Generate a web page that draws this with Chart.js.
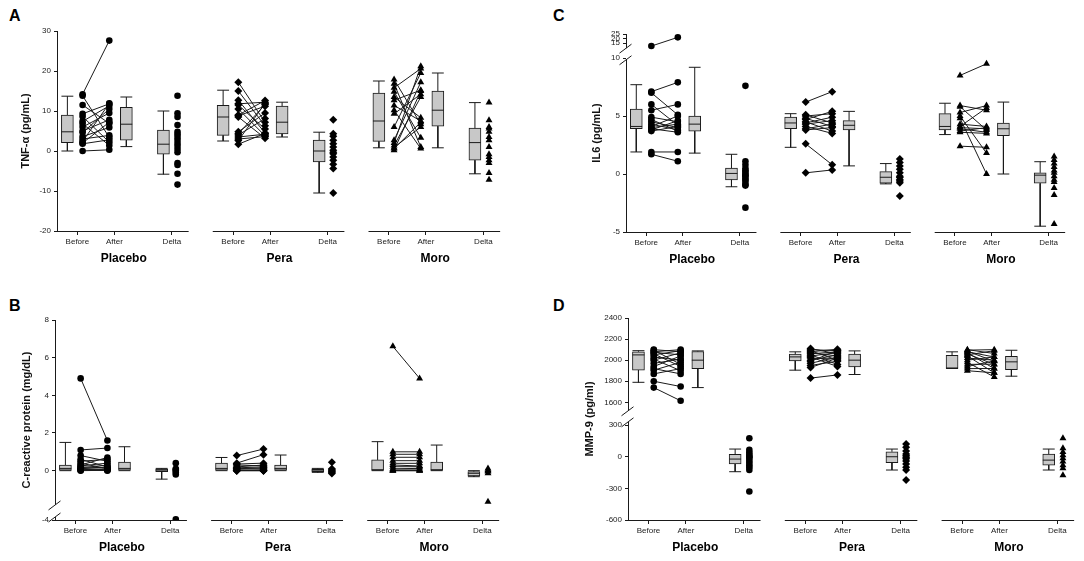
<!DOCTYPE html>
<html>
<head>
<meta charset="utf-8">
<script src="https://cdn.jsdelivr.net/npm/chart.js@4.4.1/dist/chart.umd.min.js"></script>
<style>
  body { margin: 0; background: #fff; width: 1084px; height: 561px; position: relative; overflow: hidden; }
  canvas { position: absolute; }
  .letter { position: absolute; font: bold 16px Arial, "Liberation Sans", sans-serif; color: #000; }
</style>
</head>
<body>
<div class="letter" style="left:9px;top:7px">A</div>
<div class="letter" style="left:9px;top:297px">B</div>
<div class="letter" style="left:553px;top:7px">C</div>
<div class="letter" style="left:553px;top:297px">D</div>
<canvas id="chartA" width="540" height="290" style="left:0;top:0"></canvas>
<canvas id="chartB" width="540" height="271" style="left:0;top:290px"></canvas>
<canvas id="chartC" width="544" height="290" style="left:540px;top:0"></canvas>
<canvas id="chartD" width="544" height="271" style="left:540px;top:290px"></canvas>
<script>
const groupNames = ["Placebo", "Pera", "Moro"];
const tickNames = ["Before", "After", "Delta"];

// A - TNF-alpha (pg/mL)
const tnfBefore = [
  [14.2, 13.8, 11.5, 9.3, 8.6, 7.4, 6.8, 6.0, 5.0, 4.6, 3.6, 3.0, 2.4, 2.0, 1.8, 0.0],
  [17.2, 15.0, 12.7, 11.8, 11.5, 10.5, 9.0, 8.8, 8.5, 4.8, 4.3, 4.0, 3.5, 3.0, 2.6, 1.7],
  [17.9, 16.8, 15.8, 14.8, 13.5, 12.7, 11.4, 10.2, 9.3, 6.0, 2.7, 2.0, 1.4, 0.9, 0.6, 0.2]
];
const tnfAfter = [
  [27.6, 3.4, 6.9, 11.8, 2.2, 11.3, 1.4, 9.5, 7.8, 10.5, 5.9, 3.9, 11.9, 7.2, 2.8, 0.3],
  [7.2, 6.3, 4.5, 12.2, 5.5, 3.8, 12.6, 11.2, 3.2, 9.5, 11.6, 8.1, 4.2, 3.6, 11.9, 4.4],
  [6.7, 1.0, 20.6, 3.3, 8.3, 15.2, 7.5, 0.6, 14.2, 19.5, 17.2, 21.2, 13.5, 6.0, 7.2, 15.0]
];
const tnfDelta = [
  [13.8, 9.4, 8.5, 6.5, 4.8, 4.2, 3.5, 2.8, 2.0, 1.3, 0.5, -0.3, -3.0, -3.5, -5.7, -8.4],
  [7.8, 4.3, 3.7, 2.7, 1.8, 1.0, 0.2, -0.3, -0.7, -1.5, -2.3, -3.3, -4.4, -10.5],
  [12.1, 7.7, 6.0, 5.6, 4.8, 3.5, 2.7, 1.0, -0.8, -1.5, -2.3, -3.0, -5.5, -7.2]
];
// [min, q1, median, q3, max] for Before, After, Delta
const tnfBox = [
  [[0, 2.1, 4.8, 9.0, 13.7], [1.1, 2.7, 6.7, 10.9, 13.5], [-5.8, -0.8, 1.7, 5.2, 10.0]],
  [[2.5, 3.9, 8.5, 11.4, 15.2], [3.5, 4.3, 7.2, 11.2, 12.2], [-10.5, -2.7, 0, 2.7, 4.7]],
  [[0.8, 2.4, 7.5, 14.5, 17.5], [0.8, 6.2, 10.2, 15.0, 19.5], [-5.7, -2.3, 2.1, 5.7, 12.1]]
];
const tnfTicks = [-20, -10, 0, 10, 20, 30];

// B - C-reactive protein (mg/dL)
const crpBefore = [
  [4.9, 1.1, 0.8, 0.6, 0.5, 0.4, 0.3, 0.25, 0.2, 0.15, 0.1, 0.1, 0.05, 0.05, 0.02, 0.0],
  [0.8, 0.4, 0.35, 0.3, 0.2, 0.15, 0.1, 0.1, 0.05, 0.0, 0.0, 0.0],
  [6.6, 1.0, 0.87, 0.71, 0.53, 0.39, 0.3, 0.21, 0.1, 0.04, 0.0, 0.0]
];
const crpAfter = [
  [1.6, 1.2, 0.5, 0.2, 0.6, 0.1, 0.7, 0.4, 0.15, 0.3, 0.05, 0.2, 0.1, 0.0, 0.05, 0.02],
  [1.15, 0.85, 0.4, 0.25, 0.3, 0.2, 0.1, 0.15, 0.0, 0.05, 0.0, 0.0],
  [4.9, 1.0, 0.87, 0.71, 0.53, 0.39, 0.25, 0.21, 0.12, 0.04, 0.0, 0.0]
];
const crpDelta = [
  [0.4, 0.1, 0.05, 0.0, -0.1, -0.2, -3.9],
  [0.45, 0.1, 0.05, 0.0, -0.05, -0.1, -0.15],
  [0.12, 0.04, 0.0, -0.05, -0.14, -1.65]
];
const crpBox = [
  [[0, 0, 0.12, 0.3, 1.5], [0, 0, 0.12, 0.45, 1.27], [-0.45, -0.05, 0.03, 0.08, 0.12]],
  [[0, 0, 0.12, 0.4, 0.7], [0, 0, 0.12, 0.3, 0.83], [-0.09, -0.05, 0.03, 0.07, 0.12]],
  [[0, 0, 0.04, 0.57, 1.54], [0, 0, 0.04, 0.46, 1.36], [-0.32, -0.28, -0.14, -0.05, 0]]
];
const crpTicks = [-4, 0, 2, 4, 6, 8];

// C - IL6 (pg/mL)
const il6Before = [
  [12, 7.1, 7.0, 6.0, 5.5, 4.9, 4.7, 4.5, 4.3, 4.1, 4.0, 3.9, 3.8, 3.7, 1.9, 1.7],
  [6.2, 5.1, 5.0, 4.8, 4.7, 4.5, 4.4, 4.3, 4.1, 3.9, 3.8, 2.6, 0.1],
  [8.5, 5.9, 5.8, 5.3, 5.0, 4.8, 4.3, 4.1, 4.0, 3.9, 3.7, 3.6, 2.4]
];
const il6After = [
  [21.4, 7.9, 5.1, 4.2, 6.0, 4.5, 3.7, 4.0, 3.8, 5.0, 4.3, 3.6, 4.6, 4.1, 1.9, 1.1],
  [7.1, 4.4, 5.2, 4.1, 5.4, 3.7, 4.9, 4.6, 3.5, 4.3, 4.0, 0.8, 0.35],
  [9.5, 5.5, 3.8, 5.9, 1.8, 0.0, 4.1, 5.7, 3.9, 3.6, 4.0, 3.5, 2.3]
];
const il6Delta = [
  [7.6, 1.1, 0.8, 0.5, 0.3, 0.2, 0.0, -0.1, -0.2, -0.4, -0.5, -0.7, -0.9, -1.0, -2.9],
  [1.3, 1.0, 0.7, 0.4, 0.1, -0.2, -0.3, -0.5, -0.6, -0.75, -1.9],
  [1.5, 1.2, 0.9, 0.6, 0.3, 0.1, -0.2, -0.5, -0.7, -1.2, -1.8, -4.3]
];
const il6Box = [
  [[1.9, 3.9, 4.1, 5.6, 7.7], [1.8, 3.7, 4.3, 5.0, 9.2], [-1.1, -0.5, 0.05, 0.5, 1.7]],
  [[2.3, 3.9, 4.4, 4.9, 5.2], [0.7, 3.8, 4.2, 4.6, 5.4], [-0.85, -0.8, -0.28, 0.2, 0.9]],
  [[3.4, 3.8, 4.1, 5.2, 6.1], [0, 3.3, 3.9, 4.4, 6.2], [-4.5, -0.8, -0.1, 0.1, 1.06]]
];
const il6Ticks = [-5, 0, 5, 10, 15, 20, 25];

// D - MMP-9 (pg/ml)
const mmpBefore = [
  [2100, 2095, 2080, 2075, 2060, 2050, 2030, 2010, 2000, 1970, 1940, 1920, 1905, 1870, 1800, 1740],
  [2110, 2100, 2090, 2080, 2070, 2060, 2050, 2040, 2030, 2020, 2000, 1990, 1970, 1950, 1930, 1830],
  [2100, 2095, 2085, 2080, 2070, 2060, 2050, 2040, 2020, 2000, 1980, 1960, 1940, 1920, 1900]
];
const mmpAfter = [
  [2080, 1960, 2100, 2050, 1940, 2090, 2000, 1900, 2070, 2010, 2040, 1870, 1980, 1920, 1750, 1615],
  [2060, 2090, 2000, 2104, 2040, 2080, 1960, 2070, 1940, 2010, 2050, 2090, 2030, 1990, 2020, 1860],
  [2063, 2100, 1990, 2030, 1920, 1960, 2090, 1880, 2000, 2031, 1840, 1962, 1993, 1921, 1880]
];
const mmpDelta = [
  [175, 65, 40, 20, 5, -5, -20, -40, -60, -80, -100, -125, -330],
  [120, 90, 55, 25, 10, -5, -20, -40, -70, -100, -125, -220],
  [175, 80, 45, 15, -15, -45, -80, -110, -175]
];
const mmpBox = [
  [[1790, 1905, 2050, 2080, 2090], [1740, 1920, 2000, 2082, 2088], [-142, -69, -22, 22, 73]],
  [[1905, 1993, 2031, 2057, 2079], [1864, 1937, 2000, 2057, 2088], [-126, -57, 0, 47, 73]],
  [[1921, 1921, 1925, 2047, 2079], [1848, 1911, 1984, 2037, 2094], [-126, -79, -32, 25, 73]]
];
const mmpTicks = [-600, -300, 0, 300, 1600, 1800, 2000, 2200, 2400];

// x layout (axis units): Before at 0, After at 1, Delta at 2.55 within each group
const groupOffset = [0, 4.2, 8.4];
const deltaPos = 2.55;
const pointStyles = ["circle", "rectRot", "triangle"];
const pointSizes = [3.3, 4, 4];
const ink = "#1a1a1a";

// broken-axis transforms
const tfA = v => v;
const tfB = v => (v >= -1.8 ? v : -2.62 + (v + 4) * 0.364);
const tfC = v => (v <= 10 ? v : 11.27 + (v - 15) * 0.08);
const tfD = v => (v >= 1000 ? v - 1084 : v);

const axisPieces = {
  id: "axisPieces",
  afterDraw(chart, args, opts) {
    const { ctx, chartArea } = chart;
    const x = chart.scales.x, y = chart.scales.y;
    const ax = Math.round(chartArea.left) + 0.5;
    const by = Math.round(chartArea.bottom) + 0.5;
    ctx.save();
    ctx.strokeStyle = ink;
    ctx.lineWidth = 1;
    opts.ySegs.forEach(([a, b]) => {
      ctx.beginPath();
      ctx.moveTo(ax, y.getPixelForValue(a));
      ctx.lineTo(ax, y.getPixelForValue(b));
      ctx.stroke();
    });
    opts.breaks.forEach(t => {
      const py = y.getPixelForValue(t);
      ctx.beginPath();
      ctx.moveTo(ax - 7, py + 5);
      ctx.lineTo(ax + 5, py - 4);
      ctx.stroke();
    });
    ctx.fillStyle = "#000";
    ctx.font = "bold 12px Arial, 'Liberation Sans', sans-serif";
    ctx.textAlign = "center";
    ctx.textBaseline = "middle";
    groupOffset.forEach((off, i) => {
      ctx.beginPath();
      ctx.moveTo(x.getPixelForValue(off - 0.55), by);
      ctx.lineTo(x.getPixelForValue(off + 3.0), by);
      ctx.stroke();
      ctx.fillText(groupNames[i], x.getPixelForValue(off + 1.25), chartArea.bottom + 28);
    });
    ctx.restore();
  }
};

function buildDatasets(before, after, delta, boxes, tf) {
  const boxData = [], whiskers = [], medians = [];
  const hw = 0.16;
  const sets = [];
  groupOffset.forEach((off, g) => {
    const centers = [off - 0.27, off + 1.32, off + deltaPos - 0.23];
    boxes[g].forEach((s, k) => {
      const c = centers[k];
      const [mn, q1, md, q3, mx] = s.map(tf);
      boxData.push({ x: c, y: [q1, q3] });
      whiskers.push(
        { x: c, y: q3 }, { x: c, y: mx }, { x: c, y: null },
        { x: c - hw, y: mx }, { x: c + hw, y: mx }, { x: c, y: null },
        { x: c, y: q1 }, { x: c, y: mn }, { x: c, y: null },
        { x: c - hw, y: mn }, { x: c + hw, y: mn }, { x: c, y: null }
      );
      medians.push({ x: c - hw, y: md }, { x: c + hw, y: md }, { x: c, y: null });
    });
    const pairs = [];
    before[g].forEach((b, i) => {
      pairs.push({ x: off + 0.14, y: tf(b) }, { x: off + 0.86, y: tf(after[g][i]) }, { x: off + 0.5, y: null });
    });
    sets.push({
      type: "line", data: pairs, order: 0, spanGaps: false,
      borderColor: ink, borderWidth: 1,
      pointStyle: pointStyles[g], pointRadius: pointSizes[g],
      pointBackgroundColor: "#000", pointBorderColor: "#000", pointBorderWidth: 0
    });
    sets.push({
      type: "line", showLine: false, order: 0,
      data: delta[g].map(d => ({ x: off + deltaPos + 0.15, y: tf(d) })),
      pointStyle: pointStyles[g], pointRadius: pointSizes[g],
      pointBackgroundColor: "#000", pointBorderColor: "#000", pointBorderWidth: 0
    });
  });
  sets.push({ type: "line", data: medians, order: 1, spanGaps: false, borderColor: ink, borderWidth: 1, pointRadius: 0 });
  sets.push({ type: "line", data: whiskers, order: 2, spanGaps: false, borderColor: ink, borderWidth: 1, pointRadius: 0 });
  sets.push({
    type: "bar", data: boxData, order: 3,
    backgroundColor: "#c8c8c8", borderColor: ink, borderWidth: 1,
    borderSkipped: false, barThickness: 12
  });
  return sets;
}

function makePanel(id, p) {
  const yVals = p.ticks.map(p.tf);
  const xVals = groupOffset.flatMap(o => [o, o + 1, o + deltaPos]);
  new Chart(document.getElementById(id), {
    type: "bar",
    data: { datasets: buildDatasets(p.before, p.after, p.delta, p.boxes, p.tf) },
    plugins: [axisPieces],
    options: {
      responsive: false,
      animation: false,
      layout: { padding: p.pad },
      plugins: {
        legend: { display: false },
        tooltip: { enabled: false },
        axisPieces: { ySegs: p.ySegs, breaks: p.breaks }
      },
      scales: {
        x: {
          type: "linear", min: -0.55, max: 11.45, offset: false,
          border: { display: false },
          grid: { drawOnChartArea: false, drawTicks: true, tickLength: 4, color: ink, offset: false },
          afterBuildTicks: s => { s.ticks = xVals.map(v => ({ value: v })); },
          afterFit: s => { s.height = p.xHeight; },
          ticks: {
            autoSkip: false, maxRotation: 0, padding: 2, color: "#222",
            font: { size: 8, family: "Arial, 'Liberation Sans', sans-serif" },
            callback: (v, i) => tickNames[i % 3]
          }
        },
        y: {
          type: "linear", min: p.tf(p.ticks[0]), max: p.tf(p.ticks[p.ticks.length - 1]),
          border: { display: false },
          grid: { drawOnChartArea: false, drawTicks: true, tickLength: 3, color: ink },
          afterBuildTicks: s => { s.ticks = yVals.map(v => ({ value: v })); },
          afterFit: s => { s.width = p.yWidth; },
          title: {
            display: true, text: p.title, color: "#111",
            font: { size: 11, weight: "bold", family: "Arial, 'Liberation Sans', sans-serif" }
          },
          ticks: {
            padding: 3, color: "#222",
            font: { size: 8, family: "Arial, 'Liberation Sans', sans-serif" },
            callback: (v, i) => String(p.ticks[i])
          }
        }
      }
    }
  });
}

makePanel("chartA", {
  before: tnfBefore, after: tnfAfter, delta: tnfDelta, boxes: tnfBox, ticks: tnfTicks, tf: tfA,
  title: "TNF-α (pg/mL)", pad: { left: 15, top: 31, right: 38, bottom: 0 }, yWidth: 42, xHeight: 59,
  ySegs: [[-20, 30]], breaks: []
});
makePanel("chartB", {
  before: crpBefore, after: crpAfter, delta: crpDelta, boxes: crpBox, ticks: crpTicks, tf: tfB,
  title: "C-reactive protein (mg/dL)", pad: { left: 16, top: 30, right: 39, bottom: 0 }, yWidth: 39, xHeight: 41,
  ySegs: [[tfB(-4), -2.46], [-1.82, 8]], breaks: [-2.46, -1.82]
});
makePanel("chartC", {
  before: il6Before, after: il6After, delta: il6Delta, boxes: il6Box, ticks: il6Ticks, tf: tfC,
  title: "IL6 (pg/mL)", pad: { left: 46, top: 34, right: 17, bottom: 0 }, yWidth: 40, xHeight: 58,
  ySegs: [[-5, 9.85], [10.85, tfC(25)]], breaks: [9.85, 10.85]
});
makePanel("chartD", {
  before: mmpBefore, after: mmpAfter, delta: mmpDelta, boxes: mmpBox, ticks: mmpTicks, tf: tfD,
  title: "MMP-9 (pg/ml)", pad: { left: 39, top: 28, right: 8, bottom: 0 }, yWidth: 49, xHeight: 41,
  ySegs: [[-600, 331], [436, tfD(2400)]], breaks: [331, 436]
});
</script>
</body>
</html>
